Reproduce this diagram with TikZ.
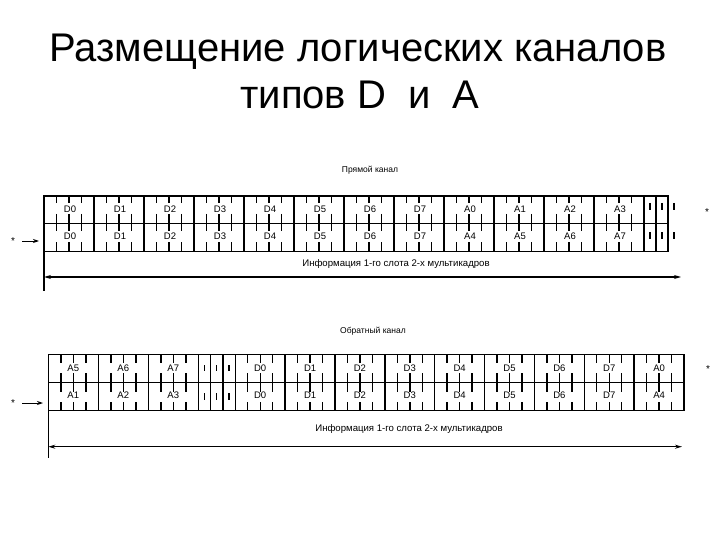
\documentclass[tikz,border=0pt]{standalone}
\usepackage{fontspec}
\setmainfont{Liberation Sans}
\usetikzlibrary{arrows.meta}
\begin{document}
\begin{tikzpicture}[x=1pt,y=-1pt,
  frame/.style={line width=1.4pt, line cap=rect},
  midline/.style={line width=1.1pt},
  tk/.style={line width=1.4pt},
  lab/.style={font=\fontsize{9.5}{10}\selectfont, inner sep=0pt},
  chcap/.style={font=\fontsize{8.5}{10}\selectfont, inner sep=0pt},
  info/.style={font=\fontsize{9.6}{10}\selectfont, inner sep=0pt},
  star/.style={font=\fontsize{10}{10}\selectfont, inner sep=0pt},
  dbl/.style={line width=1.1pt, {Stealth[length=7pt,width=4pt]}-{Stealth[length=7pt,width=4pt]}},
  inarrow/.style={line width=0.9pt, -{Stealth[length=6pt,width=4pt]}},
  ttl/.style={font=\fontsize{40}{42}\selectfont, inner sep=0pt, anchor=base}]
\useasboundingbox (0,0) rectangle (720,540);
\fill[white] (0,0) rectangle (720,540);

% ---- title
\node[ttl] (t1) at (358,62) {Размещение логических каналов};
\node[ttl] (t2) at (360,109) {типов D\ \ и\ \ A};

% ================= top diagram (Прямой канал)
\node[chcap] (c1) at (370,170) {Прямой канал};
\draw[frame] (44,196) rectangle (668,251.5);
\draw[midline] (44,223.5) -- (668,223.5);
\foreach \k in {1,...,12} \draw[frame] ({44+50*\k},196) -- ({44+50*\k},251.5);
\draw[frame] (656,196) -- (656,251.5);
\foreach \k in {0,...,11} \foreach \q in {12.5,25,37.5} {
  \draw[tk] ({44+50*\k+\q},196) -- ({44+50*\k+\q},203);
  \draw[tk] ({44+50*\k+\q},214) -- ({44+50*\k+\q},231);
  \draw[tk] ({44+50*\k+\q},242) -- ({44+50*\k+\q},251.5);
}
\foreach \xx in {650,662,674} {
  \draw[tk] (\xx,203) -- (\xx,210);
  \draw[tk] (\xx,232) -- (\xx,239);
}
\foreach \t [count=\i from 0] in {D0,D1,D2,D3,D4,D5,D6,D7,A0,A1,A2,A3}
  \node[lab] (pa\i) at ({44+50*\i+26},209.5) {\t};
\foreach \t [count=\i from 0] in {D0,D1,D2,D3,D4,D5,D6,D7,A4,A5,A6,A7}
  \node[lab] (pb\i) at ({44+50*\i+26},236) {\t};
\draw[frame] (44,251.5) -- (44,290);
\node[info] (i1) at (396,264) {Информация 1-го слота 2-х мультикадров};
\coordinate (a1l) at (44,277);
\coordinate (a1r) at (681,277);
\draw[dbl] (a1l) -- (a1r);
\node[star] (s1) at (13,241) {*};
\coordinate (e1s) at (22,241);
\coordinate (e1e) at (39,241);
\draw[inarrow] (e1s) -- (e1e);
\node[star] (s2) at (707,212) {*};

% ================= bottom diagram (Обратный канал)
\node[chcap] (c2) at (373,331) {Обратный канал};
\draw[frame] (48.3,354.3) rectangle (684,410.7);
\draw[midline] (48.3,382.7) -- (684,382.7);
\foreach \xx in {98.3,148.3,198.3,210.6,222.9,235.2}
  \draw[frame] (\xx,354.3) -- (\xx,410.7);
\foreach \k in {1,...,8} \draw[frame] ({235.2+49.87*\k},354.3) -- ({235.2+49.87*\k},410.7);
% ticks in wide cells
\foreach \xs in {48.3,98.3,148.3,235.2,285.07,334.94,384.81,434.68,484.55,534.42,584.29,634.16} \foreach \q in {12.5,25,37.5} {
  \draw[tk] ({\xs+\q},354.3) -- ({\xs+\q},363);
  \draw[tk] ({\xs+\q},373) -- ({\xs+\q},392);
  \draw[tk] ({\xs+\q},402) -- ({\xs+\q},410.7);
}
\foreach \xx in {204.4,216.7,229} {
  \draw[tk] (\xx,365) -- (\xx,371);
  \draw[tk] (\xx,393) -- (\xx,400);
}
\foreach \t/\xx [count=\i] in {A5/73.3,A6/123.3,A7/173.3}
  \node[lab] (qa\i) at (\xx,368) {\t};
\foreach \t/\xx [count=\i] in {A1/73.3,A2/123.3,A3/173.3}
  \node[lab] (qb\i) at (\xx,395) {\t};
\foreach \t [count=\i from 0] in {D0,D1,D2,D3,D4,D5,D6,D7,A0}
  \node[lab] (ra\i) at ({235.2+49.87*\i+25},368) {\t};
\foreach \t [count=\i from 0] in {D0,D1,D2,D3,D4,D5,D6,D7,A4}
  \node[lab] (rb\i) at ({235.2+49.87*\i+25},395) {\t};
\draw[frame] (48.3,410.7) -- (48.3,457);
\node[info] (i2) at (409,429) {Информация 1-го слота 2-х мультикадров};
\coordinate (a2l) at (48.3,446.7);
\coordinate (a2r) at (682,446.7);
\draw[dbl] (a2l) -- (a2r);
\node[star] (s3) at (13,403) {*};
\coordinate (e2s) at (22,403);
\coordinate (e2e) at (43,403);
\draw[inarrow] (e2s) -- (e2e);
\node[star] (s4) at (708,369) {*};
\end{tikzpicture}
\end{document}
